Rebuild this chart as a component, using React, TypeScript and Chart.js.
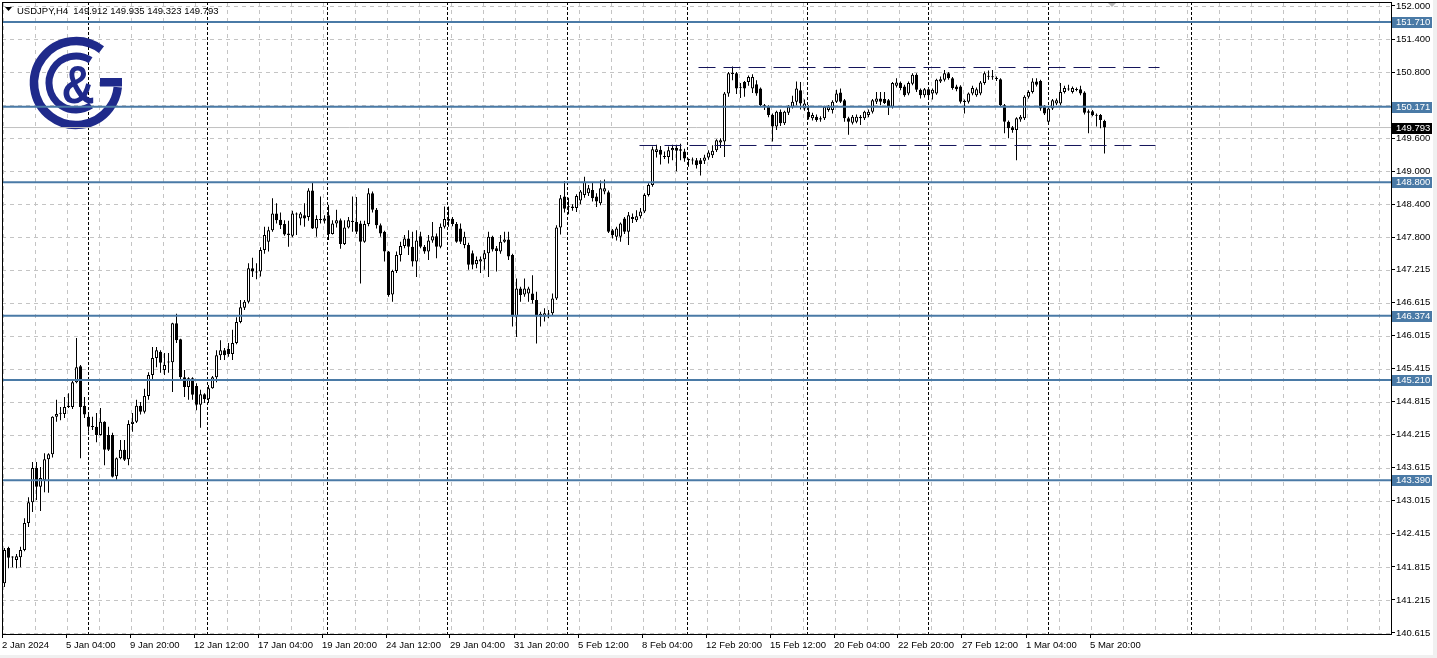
import { useEffect, useRef } from 'react';
import { Chart, registerables } from 'chart.js';

Chart.register(...registerables);

// ---------- data ----------
const symbolTitle = 'USDJPY,H4';
const headerValues = ['149.912', '149.935', '149.323', '149.793'];

const openPrices = [
  141.52, 142.16, 141.99, 141.94, 141.99, 142.12, 142.61, 142.99, 143.61, 143.27,
  143.39, 143.77, 143.86, 144.54, 144.60, 144.59, 144.72, 144.72, 145.17, 145.46,
  144.74, 144.54, 144.37, 144.36, 144.21, 144.45, 144.21, 144.21, 143.46, 143.79,
  143.94, 143.77, 144.41, 144.45, 144.74, 144.63, 144.92, 145.30, 145.61, 145.72,
  145.39, 145.54, 145.53, 146.24, 145.95, 145.26, 145.08, 145.24, 145.10, 144.76,
  144.95, 144.86, 145.06, 145.26, 145.66, 145.75, 145.77, 145.68, 145.88, 146.26,
  146.52, 146.63, 147.24, 147.18, 147.18, 147.57, 147.72, 147.93, 148.23, 148.12,
  148.04, 147.87, 147.83, 148.23, 148.14, 148.20, 148.17, 148.65, 147.96, 148.12,
  148.10, 148.20, 147.86, 148.05, 148.11, 147.68, 147.98, 148.10, 148.08, 148.05,
  147.72, 148.04, 148.60, 148.30, 148.02, 147.90, 147.54, 146.76, 147.19, 147.48,
  147.64, 147.78, 147.63, 147.36, 147.82, 147.63, 147.54, 147.74, 147.82, 147.63,
  147.99, 148.10, 148.13, 148.04, 147.96, 147.66, 147.66, 147.51, 147.31, 147.36,
  147.40, 147.51, 147.81, 147.60, 147.54, 147.72, 147.76, 147.48, 146.36, 146.87,
  146.76, 146.78, 146.78, 146.66, 146.36, 146.36, 146.40, 146.42, 146.69, 147.98,
  148.54, 148.36, 148.36, 148.33, 148.47, 148.57, 148.60, 148.66, 148.54, 148.42,
  148.63, 148.62, 147.93, 147.81, 147.81, 148.14, 147.90, 148.13, 148.11, 148.18,
  148.27, 148.57, 148.75, 149.35, 149.39, 149.27, 149.26, 149.38, 149.42, 149.37,
  149.36, 149.22, 149.20, 149.20, 149.20, 149.19, 149.25, 149.29, 149.38, 149.52,
  149.54, 150.41, 150.77, 150.78, 150.53, 150.62, 150.62, 150.50, 150.58, 150.50,
  150.20, 150.17, 150.02, 149.81, 150.08, 149.87, 150.06, 150.17, 150.26, 150.47,
  150.14, 150.08, 149.96, 149.99, 149.94, 149.96, 150.11, 150.11, 150.26, 150.43,
  150.29, 149.96, 149.88, 149.90, 149.96, 149.96, 150.02, 150.08, 150.26, 150.32,
  150.31, 150.29, 150.17, 150.55, 150.60, 150.54, 150.41, 150.59, 150.75, 150.48,
  150.38, 150.49, 150.41, 150.41, 150.63, 150.66, 150.78, 150.69, 150.54, 150.54,
  150.27, 150.26, 150.41, 150.38, 150.41, 150.60, 150.72, 150.72, 150.69, 150.67,
  150.20, 149.90, 149.80, 149.75, 149.94, 149.96, 150.35, 150.44, 150.63, 150.64,
  150.17, 149.90, 150.14, 150.23, 150.23, 150.44, 150.49, 150.44, 150.49, 150.49,
  150.43, 150.09, 150.09, 150.02, 150.02, 149.912,
];

const highPrices = [
  142.16, 142.18, 142.01, 142.05, 142.18, 142.70, 143.08, 143.72, 143.72, 143.63,
  143.88, 143.88, 144.55, 144.85, 144.72, 144.90, 144.97, 145.21, 145.97, 145.48,
  144.90, 144.61, 144.54, 144.61, 144.70, 144.46, 144.36, 144.25, 143.80, 144.12,
  144.12, 144.48, 144.61, 144.85, 144.81, 145.05, 145.35, 145.81, 145.81, 145.75,
  145.70, 145.70, 146.25, 146.41, 145.96, 145.39, 145.26, 145.26, 145.15, 145.03,
  144.97, 145.12, 145.28, 145.75, 145.93, 145.79, 145.88, 146.12, 146.35, 146.66,
  146.66, 147.33, 147.43, 147.33, 147.62, 147.99, 147.99, 148.51, 148.42, 148.25,
  148.11, 148.10, 148.28, 148.25, 148.26, 148.42, 148.69, 148.80, 148.20, 148.54,
  148.20, 148.39, 148.11, 148.30, 148.14, 148.11, 148.17, 148.54, 148.53, 148.10,
  148.10, 148.69, 148.63, 148.33, 148.05, 147.92, 147.55, 147.21, 147.54, 147.72,
  147.84, 147.93, 147.90, 147.93, 147.90, 147.66, 147.84, 148.08, 147.87, 148.05,
  148.36, 148.36, 148.17, 148.08, 148.05, 147.90, 147.70, 147.56, 147.45, 147.45,
  147.57, 147.90, 147.83, 147.64, 147.84, 147.90, 147.90, 147.50, 147.05, 146.90,
  147.05, 146.90, 147.11, 146.81, 146.45, 146.51, 146.48, 146.78, 148.02, 148.57,
  148.82, 148.52, 148.40, 148.58, 148.66, 148.90, 148.75, 148.79, 148.60, 148.83,
  148.85, 148.65, 147.95, 147.99, 148.07, 148.17, 148.26, 148.23, 148.29, 148.33,
  148.60, 148.78, 149.45, 149.48, 149.46, 149.36, 149.45, 149.48, 149.48, 149.50,
  149.41, 149.23, 149.25, 149.24, 149.24, 149.30, 149.38, 149.47, 149.58, 149.60,
  150.44, 150.80, 150.90, 150.80, 150.60, 150.64, 150.74, 150.76, 150.65, 150.52,
  150.22, 150.20, 150.05, 150.10, 150.12, 150.10, 150.20, 150.37, 150.63, 150.62,
  150.30, 150.20, 150.06, 150.03, 150.00, 150.19, 150.20, 150.29, 150.48, 150.50,
  150.31, 149.99, 150.02, 150.03, 150.02, 150.10, 150.12, 150.31, 150.44, 150.44,
  150.44, 150.31, 150.62, 150.69, 150.63, 150.57, 150.63, 150.78, 150.78, 150.50,
  150.51, 150.52, 150.50, 150.68, 150.72, 150.84, 150.80, 150.71, 150.57, 150.56,
  150.30, 150.43, 150.55, 150.52, 150.64, 150.81, 150.83, 150.84, 150.72, 150.69,
  150.22, 149.92, 149.82, 149.98, 150.02, 150.38, 150.47, 150.69, 150.69, 150.66,
  150.20, 150.17, 150.31, 150.32, 150.60, 150.55, 150.57, 150.54, 150.52, 150.55,
  150.45, 150.12, 150.11, 150.05, 150.04, 149.935,
];

const lowPrices = [
  141.45, 141.79, 141.81, 141.79, 141.81, 142.10, 142.54, 142.81, 143.03, 142.83,
  143.17, 143.16, 143.80, 144.45, 144.48, 144.52, 144.70, 144.68, 145.15, 143.79,
  144.52, 144.27, 144.30, 144.08, 144.20, 143.66, 143.92, 143.44, 143.39, 143.77,
  143.74, 143.66, 144.27, 144.43, 144.58, 144.60, 144.85, 145.21, 145.44, 145.34,
  145.30, 145.34, 144.99, 145.88, 145.21, 144.90, 144.85, 144.85, 144.66, 144.34,
  144.79, 144.79, 145.05, 145.17, 145.57, 145.57, 145.63, 145.57, 145.86, 146.24,
  146.48, 146.60, 147.08, 147.04, 147.09, 147.50, 147.54, 147.90, 148.05, 147.95,
  147.83, 147.63, 147.80, 147.84, 148.02, 147.99, 148.10, 147.95, 147.81, 148.05,
  148.05, 147.75, 147.85, 147.98, 147.59, 147.66, 147.96, 147.90, 147.86, 146.96,
  147.70, 148.00, 148.25, 147.96, 147.81, 147.36, 146.72, 146.63, 147.15, 147.36,
  147.60, 147.48, 147.27, 147.08, 147.60, 147.50, 147.39, 147.70, 147.42, 147.60,
  147.96, 147.99, 148.00, 147.70, 147.68, 147.60, 147.21, 147.22, 147.24, 147.15,
  147.21, 147.08, 147.54, 147.18, 147.50, 147.70, 147.39, 146.18, 145.99, 146.63,
  146.72, 146.63, 146.60, 145.87, 146.18, 146.27, 146.33, 146.39, 146.66, 147.85,
  148.25, 148.22, 148.28, 148.26, 148.40, 148.52, 148.55, 148.45, 148.35, 148.38,
  148.58, 147.88, 147.78, 147.74, 147.72, 147.86, 147.66, 148.06, 148.08, 148.14,
  148.24, 148.54, 148.72, 149.25, 149.12, 149.22, 149.14, 149.20, 149.00, 149.20,
  149.17, 149.08, 149.12, 149.05, 148.92, 149.13, 149.21, 149.24, 149.35, 149.42,
  149.26, 150.35, 150.65, 150.40, 150.33, 150.35, 150.55, 150.42, 150.37, 150.17,
  150.11, 149.98, 149.54, 149.75, 149.82, 149.84, 150.02, 150.14, 150.20, 150.12,
  150.10, 149.94, 149.92, 149.90, 149.90, 149.93, 150.08, 150.05, 150.24, 150.24,
  149.90, 149.66, 149.85, 149.87, 149.84, 149.93, 149.98, 150.05, 150.22, 150.20,
  150.22, 150.02, 150.14, 150.52, 150.47, 150.35, 150.38, 150.56, 150.44, 150.32,
  150.34, 150.32, 150.30, 150.39, 150.60, 150.63, 150.66, 150.48, 150.45, 150.23,
  150.05, 150.23, 150.38, 150.35, 150.38, 150.57, 150.66, 150.66, 150.64, 150.18,
  149.69, 149.60, 149.70, 149.20, 149.90, 149.93, 150.32, 150.41, 150.54, 150.10,
  150.02, 149.87, 150.11, 150.20, 150.20, 150.41, 150.46, 150.41, 150.45, 150.38,
  150.03, 149.69, 150.00, 149.81, 149.78, 149.323,
];

const closePrices = [
  142.12, 141.98, 142.00, 142.01, 142.12, 142.61, 142.99, 143.61, 143.27, 143.43,
  143.77, 143.86, 144.54, 144.59, 144.61, 144.72, 144.74, 145.17, 145.44, 144.72,
  144.58, 144.36, 144.36, 144.21, 144.45, 143.94, 143.94, 143.45, 143.79, 143.94,
  143.76, 144.41, 144.45, 144.74, 144.63, 144.92, 145.30, 145.61, 145.75, 145.52,
  145.48, 145.53, 146.24, 145.93, 145.26, 145.08, 145.24, 144.94, 144.76, 144.95,
  144.86, 145.06, 145.26, 145.66, 145.75, 145.66, 145.68, 145.88, 146.26, 146.53,
  146.63, 147.24, 147.18, 147.16, 147.57, 147.84, 147.93, 148.23, 148.11, 148.02,
  147.85, 147.84, 148.23, 148.22, 148.23, 148.14, 148.65, 147.96, 148.13, 148.13,
  148.14, 147.86, 148.05, 148.11, 147.68, 147.98, 148.11, 148.08, 147.90, 147.72,
  148.04, 148.60, 148.30, 148.02, 147.87, 147.54, 146.75, 147.19, 147.48, 147.64,
  147.78, 147.63, 147.36, 147.74, 147.63, 147.54, 147.74, 147.82, 147.63, 147.99,
  148.13, 148.13, 148.04, 147.72, 147.72, 147.81, 147.30, 147.30, 147.39, 147.40,
  147.51, 147.81, 147.58, 147.55, 147.72, 147.76, 147.45, 146.36, 146.87, 146.75,
  146.87, 146.87, 146.66, 146.36, 146.41, 146.42, 146.41, 146.69, 147.98, 148.51,
  148.32, 148.35, 148.33, 148.55, 148.63, 148.81, 148.69, 148.51, 148.45, 148.69,
  148.69, 147.90, 147.84, 147.96, 148.05, 147.90, 148.20, 148.17, 148.18, 148.27,
  148.57, 148.75, 149.40, 149.40, 149.30, 149.26, 149.38, 149.42, 149.37, 149.40,
  149.23, 149.20, 149.21, 149.11, 149.13, 149.25, 149.34, 149.37, 149.56, 149.56,
  150.41, 150.78, 150.78, 150.50, 150.52, 150.50, 150.71, 150.71, 150.41, 150.20,
  150.17, 150.02, 149.81, 150.08, 149.87, 150.08, 150.17, 150.26, 150.50, 150.23,
  150.23, 149.98, 150.02, 149.93, 149.96, 150.17, 150.17, 150.26, 150.41, 150.26,
  149.96, 149.90, 149.99, 149.99, 149.99, 150.08, 150.08, 150.29, 150.32, 150.26,
  150.24, 150.17, 150.60, 150.61, 150.51, 150.38, 150.60, 150.75, 150.48, 150.38,
  150.49, 150.38, 150.48, 150.66, 150.67, 150.78, 150.69, 150.51, 150.49, 150.26,
  150.26, 150.41, 150.51, 150.49, 150.61, 150.78, 150.73, 150.71, 150.68, 150.20,
  149.90, 149.78, 149.75, 149.96, 149.99, 150.35, 150.44, 150.63, 150.57, 150.14,
  150.05, 150.14, 150.29, 150.29, 150.44, 150.51, 150.50, 150.51, 150.48, 150.41,
  150.06, 150.06, 150.02, 150.01, 149.93, 149.793,
];

// horizontal support / resistance levels
const levelLines = [151.71, 150.171, 148.8, 146.374, 145.21, 143.39];
const currentPrice = 149.793;

// dashed range lines: [price, fromBar, toBar]
const rangeTopLine = [150.883, 173.5, 288.75];
const rangeBottomLine = [149.467, 158.75, 287.75];

// weekly separators (bar positions)
const weekSeparators = [21, 50.75, 80.75, 110.75, 140.75, 170.75, 200.75, 231, 261, 296.75];

const yTickValues = [
  152.0, 151.4, 150.8, 150.2, 149.6, 149.0, 148.4, 147.8, 147.215, 146.615, 146.015,
  145.415, 144.815, 144.215, 143.615, 143.015, 142.415, 141.815, 141.215, 140.615,
];

const xTickPositions = [
  -0.6, 15.375, 31.375, 47.375, 63.375, 79.375, 95.375, 111.375, 127.375, 143.375,
  159.375, 175.375, 191.375, 207.375, 223.375, 239.375, 255.375, 271.375,
];
const xTickLabels = [
  '2 Jan 2024', '5 Jan 04:00', '9 Jan 20:00', '12 Jan 12:00', '17 Jan 04:00', '19 Jan 20:00',
  '24 Jan 12:00', '29 Jan 04:00', '31 Jan 20:00', '5 Feb 12:00', '8 Feb 04:00', '12 Feb 20:00',
  '15 Feb 12:00', '20 Feb 04:00', '22 Feb 20:00', '27 Feb 12:00', '1 Mar 04:00', '5 Mar 20:00',
];

// ---------- style ----------
const W = 1437;
const H = 658;
const X_MIN = -0.625;
const X_MAX = 346.625;
const Y_MIN = 140.5965;
const Y_MAX = 152.0726;
const FONT_FAMILY = "'Liberation Sans', Arial, sans-serif";
const FONT_SIZE = 9.5;
const LEVEL_BLUE = '#4a7aa6';
const NAVY = '#14145a';
const LOGO = '#1f2a8b';

function drawLogo(ctx: CanvasRenderingContext2D) {
  ctx.save();
  ctx.strokeStyle = LOGO;
  ctx.fillStyle = LOGO;
  ctx.lineCap = 'butt';
  ctx.lineWidth = 8.5;
  ctx.beginPath();
  ctx.arc(76, 83, 42, -0.92, 0.1, true);
  ctx.stroke();
  ctx.fillRect(100, 78, 22, 8.5);
  ctx.lineWidth = 7;
  ctx.beginPath();
  ctx.arc(76, 83, 27, -1.0, 0.98, true);
  ctx.stroke();
  ctx.translate(78, 103);
  ctx.scale(0.85, 1);
  ctx.font = "bold 54px 'Liberation Sans', Arial, sans-serif";
  ctx.textAlign = 'center';
  ctx.textBaseline = 'alphabetic';
  ctx.fillText('&', 0, 0);
  ctx.restore();
}

const mtPlugin = {
  id: 'mtDecor',
  beforeDraw(chart: any) {
    const ctx: CanvasRenderingContext2D = chart.ctx;
    ctx.save();
    ctx.fillStyle = '#ffffff';
    ctx.fillRect(0, 0, W, H);
    ctx.fillStyle = '#f0f0f0';
    ctx.fillRect(1433, 0, W - 1433, H);
    ctx.fillRect(0, 655, W, H - 655);
    ctx.restore();
  },
  beforeDatasetsDraw(chart: any) {
    const ctx: CanvasRenderingContext2D = chart.ctx;
    const a = chart.chartArea;
    const x = chart.scales.x;
    const y = chart.scales.y;
    ctx.save();
    ctx.beginPath();
    ctx.rect(a.left, a.top, a.right - a.left, a.bottom - a.top);
    ctx.clip();
    ctx.lineWidth = 1;
    ctx.strokeStyle = '#c4c4c4';
    ctx.setLineDash([4, 4]);
    for (let v = -0.25; v < X_MAX; v += 8) {
      const px = Math.round(x.getPixelForValue(v) - 0.5) + 0.5;
      ctx.beginPath();
      ctx.moveTo(px, a.top);
      ctx.lineTo(px, a.bottom);
      ctx.stroke();
    }
    for (const v of yTickValues) {
      const py = Math.round(y.getPixelForValue(v)) + 0.5;
      ctx.beginPath();
      ctx.moveTo(a.left, py);
      ctx.lineTo(a.right, py);
      ctx.stroke();
    }
    ctx.strokeStyle = '#000000';
    ctx.setLineDash([3, 2]);
    for (const v of weekSeparators) {
      const px = Math.round(x.getPixelForValue(v) - 0.5) + 0.5;
      ctx.beginPath();
      ctx.moveTo(px, a.top);
      ctx.lineTo(px, a.bottom);
      ctx.stroke();
    }
    ctx.setLineDash([]);
    drawLogo(ctx);
    ctx.restore();
  },
  afterDraw(chart: any) {
    const ctx: CanvasRenderingContext2D = chart.ctx;
    const a = chart.chartArea;
    const y = chart.scales.y;
    ctx.save();
    // frame
    ctx.strokeStyle = '#000';
    ctx.lineWidth = 1;
    ctx.strokeRect(a.left + 0.5, a.top + 0.5, a.right - a.left, a.bottom - a.top);
    // level labels
    ctx.font = `${FONT_SIZE}px ${FONT_FAMILY}`;
    ctx.textAlign = 'left';
    ctx.textBaseline = 'middle';
    const box = (v: number, bg: string) => {
      const py = Math.round(y.getPixelForValue(v));
      ctx.fillStyle = bg;
      ctx.fillRect(a.right + 1, py - 5, 40, 11);
      ctx.fillStyle = '#ffffff';
      ctx.fillText(v.toFixed(3), a.right + 5, py + 0.5);
    };
    for (const v of levelLines) box(v, LEVEL_BLUE);
    box(currentPrice, '#000000');
    // header
    ctx.fillStyle = '#000';
    ctx.beginPath();
    ctx.moveTo(5, 7);
    ctx.lineTo(12, 7);
    ctx.lineTo(8.5, 11);
    ctx.closePath();
    ctx.fill();
    ctx.textBaseline = 'alphabetic';
    ctx.fillText(`${symbolTitle}  ${headerValues.join(' ')}`, 17, 14);
    // small grey marker at top
    ctx.fillStyle = '#b8b8b8';
    ctx.beginPath();
    ctx.moveTo(1108, 3);
    ctx.lineTo(1116, 3);
    ctx.lineTo(1112, 7);
    ctx.closePath();
    ctx.fill();
    ctx.restore();
  },
};

function buildConfig(): any {
  const idx = openPrices.map((_, i) => i);
  const bodyData = idx.map((i) => {
    const o = openPrices[i];
    const c = closePrices[i];
    if (Math.abs(o - c) < 0.012) {
      const m = (o + c) / 2;
      return { x: i, y: [m - 0.009, m + 0.009] };
    }
    return { x: i, y: [o, c] };
  });
  const bodyColors = idx.map((i) => (closePrices[i] > openPrices[i] + 0.011 ? '#ffffff' : '#000000'));
  const wickData = idx.map((i) => ({ x: i, y: [lowPrices[i], highPrices[i]] }));

  const levelSets = levelLines.map((v) => ({
    type: 'line',
    data: [
      { x: X_MIN, y: v },
      { x: X_MAX, y: v },
    ],
    borderColor: LEVEL_BLUE,
    borderWidth: 2,
    pointRadius: 0,
    order: 0,
  }));

  const rangeSet = (r: number[]) => ({
    type: 'line',
    data: [
      { x: r[1], y: r[0] },
      { x: r[2], y: r[0] },
    ],
    borderColor: NAVY,
    borderWidth: 1,
    borderDash: [17, 8],
    pointRadius: 0,
    order: 0,
  });

  const tickFont = { family: FONT_FAMILY, size: FONT_SIZE };

  return {
    type: 'bar',
    data: {
      datasets: [
        ...levelSets,
        rangeSet(rangeTopLine),
        rangeSet(rangeBottomLine),
        {
          type: 'line',
          data: [
            { x: X_MIN, y: currentPrice },
            { x: X_MAX, y: currentPrice },
          ],
          borderColor: '#c0c0c0',
          borderWidth: 1,
          pointRadius: 0,
          order: 5,
        },
        {
          type: 'bar',
          data: bodyData,
          backgroundColor: bodyColors,
          borderColor: '#000000',
          borderWidth: 1,
          borderSkipped: false,
          barThickness: 3,
          maxBarThickness: 3,
          grouped: false,
          inflateAmount: 0,
          order: 1,
        },
        {
          type: 'bar',
          data: wickData,
          backgroundColor: '#000000',
          borderWidth: 0,
          barThickness: 1,
          maxBarThickness: 1,
          grouped: false,
          inflateAmount: 0,
          order: 2,
        },
      ],
    },
    options: {
      animation: false,
      responsive: false,
      devicePixelRatio: 1,
      events: [],
      layout: { padding: { left: 2, top: 2, right: 0, bottom: 0 } },
      plugins: { legend: { display: false }, tooltip: { enabled: false } },
      scales: {
        x: {
          type: 'linear',
          min: X_MIN,
          max: X_MAX,
          offset: false,
          position: 'bottom',
          grid: { drawOnChartArea: false, drawTicks: true, tickLength: 4, color: '#000', offset: false },
          border: { display: false },
          afterBuildTicks: (scale: any) => {
            scale.ticks = xTickPositions.map((v) => ({ value: v }));
          },
          afterFit: (scale: any) => {
            scale.height = 24;
            scale.paddingLeft = 0;
            scale.paddingRight = 0;
          },
          ticks: {
            autoSkip: false,
            maxRotation: 0,
            minRotation: 0,
            align: 'start',
            padding: 2,
            color: '#000',
            font: tickFont,
            callback: (_v: any, i: number) => xTickLabels[i],
          },
        },
        y: {
          type: 'linear',
          position: 'right',
          min: Y_MIN,
          max: Y_MAX,
          grid: { drawOnChartArea: false, drawTicks: true, tickLength: 4, color: '#000' },
          border: { display: false },
          afterBuildTicks: (scale: any) => {
            scale.ticks = yTickValues.map((v) => ({ value: v }));
          },
          afterFit: (scale: any) => {
            scale.width = 46;
            scale.paddingTop = 0;
            scale.paddingBottom = 0;
          },
          ticks: {
            autoSkip: false,
            padding: 1,
            color: '#000',
            font: tickFont,
            callback: (v: any) => Number(v).toFixed(3),
          },
        },
      },
    },
    plugins: [mtPlugin],
  };
}

export default function App() {
  const ref = useRef<HTMLCanvasElement>(null);
  useEffect(() => {
    if (!ref.current) return;
    const chart = new Chart(ref.current, buildConfig());
    return () => chart.destroy();
  }, []);
  return (
    <div style={{ position: 'absolute', left: 0, top: 0, width: W, height: H, background: '#fff' }}>
      <canvas ref={ref} width={W} height={H} style={{ display: 'block', width: W, height: H }} />
    </div>
  );
}
